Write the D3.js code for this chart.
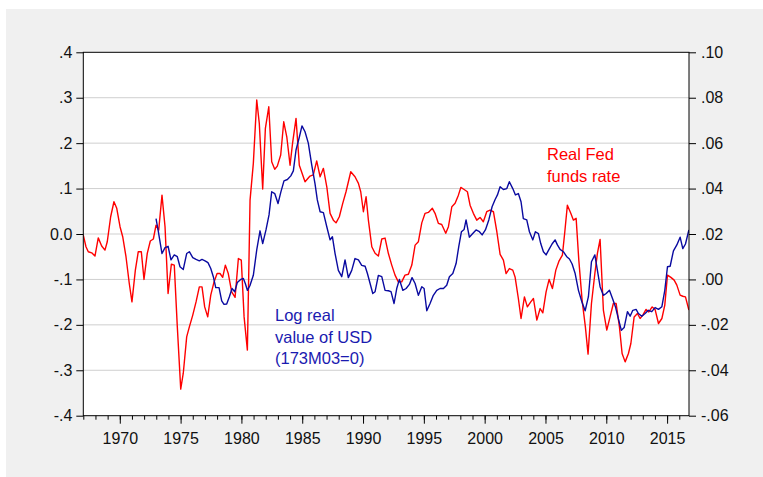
<!DOCTYPE html>
<html>
<head>
<meta charset="utf-8">
<script src="https://cdn.jsdelivr.net/npm/d3@7"></script>
<style>
  html, body { margin: 0; padding: 0; background: #ffffff; }
  svg { display: block; }
  text { font-family: "Liberation Sans", Arial, sans-serif; }
</style>
</head>
<body>
<svg id="chart" width="763" height="477"></svg>
<script>
// ---------------- DATA ----------------
// Real Fed funds rate (right axis), quarterly, decimal years
const fedDates = [1967.00,1967.22,1967.41,1967.69,1967.96,1968.23,1968.51,1968.78,1968.97,1969.25,1969.52,1969.75,
1970.02,1970.24,1970.51,1970.78,1971.00,1971.28,1971.52,1971.77,1971.99,1972.26,1972.51,1972.76,1972.98,1973.20,
1973.47,1973.72,1973.97,1974.24,1974.48,1974.73,1975.01,1975.22,1975.50,1975.72,1976.00,1976.27,1976.54,1976.76,
1976.98,1977.23,1977.48,1977.75,1978.00,1978.24,1978.46,1978.68,1978.92,1979.20,1979.48,1979.75,1979.99,1980.22,
1980.49,1980.71,1980.98,1981.26,1981.47,1981.75,1981.97,1982.25,1982.49,1982.74,1982.95,1983.23,1983.48,1983.73,
1984.00,1984.22,1984.49,1984.76,1985.23,1985.64,1985.91,1986.19,1986.47,1986.74,1987.02,1987.29,1987.56,1987.78,
1988.05,1988.33,1988.60,1988.99,1989.34,1989.62,1989.81,1990.03,1990.25,1990.44,1990.72,1990.99,1991.26,1991.54,
1991.81,1992.08,1992.36,1992.63,1992.90,1993.18,1993.45,1993.73,1994.01,1994.28,1994.55,1994.83,1995.10,1995.37,
1995.70,1995.92,1996.19,1996.47,1996.80,1997.02,1997.30,1997.57,1997.84,1998.04,1998.31,1998.58,1998.80,1999.07,
1999.35,1999.62,1999.89,2000.17,2000.44,2000.72,2001.00,2001.27,2001.54,2001.76,2002.03,2002.31,2002.50,2002.77,
2002.99,2003.27,2003.51,2003.79,2004.01,2004.29,2004.56,2004.78,2005.05,2005.30,2005.57,2005.85,2006.12,2006.39,
2006.59,2006.80,2007.08,2007.30,2007.52,2007.74,2008.01,2008.28,2008.50,2008.78,2009.06,2009.27,2009.49,2009.76,
2010.04,2010.31,2010.58,2010.81,2011.08,2011.30,2011.55,2011.82,2012.02,2012.29,2012.56,2012.78,2013.00,2013.27,
2013.50,2013.77,2014.01,2014.29,2014.57,2014.81,2015.03,2015.31,2015.58,2015.80,2016.07,2016.29,2016.51,2016.79];
const fedRate = [0.0195,0.0144,0.0122,0.0117,0.0103,0.0183,0.0147,0.0129,0.0166,0.0276,0.0342,0.0313,
0.0232,0.0188,0.0100,-0.0018,-0.0099,0.0041,0.0122,0.0122,0.0000,0.0115,0.0169,0.0178,0.0239,0.0217,
0.0371,0.0232,-0.0062,0.0067,0.0063,-0.0209,-0.0483,-0.0413,-0.0253,-0.0209,-0.0157,-0.0099,-0.0033,-0.0033,
-0.0121,-0.0165,-0.0069,-0.0011,0.0026,0.0026,0.0009,0.0063,0.0026,-0.0055,-0.0079,0.0092,0.0085,-0.0165,
-0.0311,0.0349,0.0511,0.0790,0.0687,0.0398,0.0665,0.0760,0.0518,0.0485,0.0499,0.0548,0.0694,0.0628,
0.0503,0.0606,0.0709,0.0503,0.0430,0.0455,0.0460,0.0522,0.0452,0.0489,0.0408,0.0291,0.0261,0.0249,
0.0276,0.0335,0.0386,0.0474,0.0452,0.0423,0.0386,0.0298,0.0364,0.0261,0.0144,0.0115,0.0103,0.0178,
0.0182,0.0115,0.0063,0.0019,-0.0011,-0.0011,0.0019,0.0023,0.0063,0.0151,0.0166,0.0249,0.0291,0.0295,
0.0313,0.0291,0.0247,0.0242,0.0203,0.0232,0.0320,0.0335,0.0371,0.0405,0.0396,0.0386,0.0327,0.0291,
0.0261,0.0273,0.0254,0.0298,0.0305,0.0298,0.0210,0.0110,0.0085,0.0026,0.0048,0.0041,0.0011,-0.0084,
-0.0172,-0.0077,-0.0121,-0.0099,-0.0084,-0.0179,-0.0128,-0.0147,-0.0055,0.0000,-0.0040,0.0041,0.0082,0.0107,
0.0210,0.0327,0.0291,0.0261,0.0269,0.0085,-0.0091,-0.0209,-0.0329,-0.0106,0.0026,0.0115,0.0176,-0.0135,
-0.0223,-0.0165,-0.0106,-0.0106,-0.0209,-0.0326,-0.0363,-0.0326,-0.0282,-0.0165,-0.0150,-0.0172,-0.0157,-0.0132,
-0.0143,-0.0121,-0.0132,-0.0194,-0.0172,-0.0113,0.0019,0.0009,-0.0003,-0.0025,-0.0069,-0.0074,-0.0077,-0.0135];

// Log real value of USD (left axis)
const usdDates = [1972.98,1973.17,1973.47,1973.72,1973.97,1974.21,1974.48,1974.73,1974.95,1975.22,1975.50,1975.72,
1976.00,1976.27,1976.54,1976.76,1977.01,1977.25,1977.48,1977.69,1977.89,1978.16,1978.38,1978.57,1978.79,1979.01,
1979.23,1979.45,1979.66,1979.94,1980.16,1980.32,1980.49,1980.71,1980.98,1981.26,1981.53,1981.75,1982.02,1982.27,
1982.49,1982.74,1983.01,1983.23,1983.50,1983.78,1984.06,1984.27,1984.49,1984.76,1984.98,1985.23,1985.50,1985.78,
1986.05,1986.24,1986.47,1986.74,1987.02,1987.29,1987.48,1987.70,1987.97,1988.25,1988.52,1988.79,1989.07,1989.34,
1989.62,1989.89,1990.17,1990.36,1990.58,1990.80,1990.99,1991.26,1991.54,1991.81,1992.08,1992.30,1992.55,1992.77,
1992.99,1993.27,1993.54,1993.81,1994.03,1994.28,1994.55,1994.83,1995.02,1995.24,1995.51,1995.78,1996.06,1996.33,
1996.61,1996.88,1997.10,1997.38,1997.65,1997.87,1998.09,1998.31,1998.47,1998.74,1999.02,1999.29,1999.57,1999.79,
2000.06,2000.34,2000.61,2000.86,2001.05,2001.27,2001.54,2001.82,2002.03,2002.31,2002.53,2002.77,2002.99,2003.18,
2003.46,2003.68,2003.96,2004.17,2004.42,2004.61,2004.83,2005.05,2005.27,2005.54,2005.79,2005.98,2006.20,2006.47,
2006.75,2006.97,2007.19,2007.44,2007.71,2007.99,2008.26,2008.53,2008.78,2009.06,2009.27,2009.49,2009.76,2009.99,
2010.26,2010.54,2010.75,2010.97,2011.24,2011.47,2011.74,2011.96,2012.18,2012.45,2012.64,2012.92,2013.19,2013.46,
2013.74,2014.01,2014.29,2014.57,2014.81,2015.03,2015.25,2015.52,2015.80,2016.07,2016.29,2016.51,2016.79];
const usdValue = [0.034,0.005,-0.043,-0.030,-0.027,-0.057,-0.046,-0.050,-0.072,-0.078,-0.043,-0.039,
-0.052,-0.056,-0.059,-0.056,-0.059,-0.063,-0.076,-0.094,-0.118,-0.118,-0.147,-0.155,-0.154,-0.138,
-0.120,-0.127,-0.107,-0.100,-0.098,-0.109,-0.124,-0.113,-0.091,-0.035,0.007,-0.021,0.009,0.042,
0.093,0.089,0.067,0.091,0.117,0.120,0.128,0.139,0.185,0.213,0.238,0.225,0.200,0.152,
0.111,0.075,0.049,0.047,0.016,-0.013,-0.006,-0.043,-0.080,-0.094,-0.057,-0.096,-0.080,-0.054,
-0.057,-0.069,-0.071,-0.087,-0.109,-0.131,-0.127,-0.091,-0.094,-0.124,-0.125,-0.127,-0.153,-0.120,
-0.100,-0.124,-0.120,-0.111,-0.096,-0.109,-0.135,-0.116,-0.120,-0.169,-0.153,-0.135,-0.124,-0.120,
-0.120,-0.113,-0.094,-0.087,-0.065,-0.028,0.005,0.010,0.031,-0.007,0.001,0.009,0.005,-0.002,
0.009,0.031,0.060,0.076,0.086,0.104,0.098,0.100,0.115,0.100,0.086,0.089,0.071,0.034,
0.031,0.005,-0.013,0.005,0.001,-0.021,-0.039,-0.046,-0.035,-0.022,-0.013,-0.024,-0.034,-0.039,
-0.050,-0.055,-0.066,-0.087,-0.124,-0.149,-0.169,-0.138,-0.061,-0.046,-0.080,-0.116,-0.135,-0.131,
-0.124,-0.144,-0.160,-0.184,-0.212,-0.206,-0.171,-0.181,-0.168,-0.166,-0.175,-0.181,-0.175,-0.168,
-0.171,-0.162,-0.166,-0.160,-0.124,-0.072,-0.071,-0.037,-0.024,-0.007,-0.032,-0.022,0.009];

const leftTicks = [-0.4,-0.3,-0.2,-0.1,0,0.1,0.2,0.3,0.4];
const leftTickLabels = ["-.4","-.3","-.2","-.1","0.0",".1",".2",".3",".4"];
const rightTicks = [-0.06,-0.04,-0.02,0,0.02,0.04,0.06,0.08,0.10];
const rightTickLabels = ["-.06","-.04","-.02",".00",".02",".04",".06",".08",".10"];
const yearTicks = [1970,1975,1980,1985,1990,1995,2000,2005,2010,2015];

const labelUSD = ["Log real","value of USD","(173M03=0)"];
const labelFed = ["Real Fed","funds rate"];

// ---------------- LAYOUT ----------------
const svg = d3.select("#chart");
const W = 763, H = 477;
const plot = {left: 83.3, right: 689, top: 52.3, bottom: 415.7};
const blue = "#0a0aa0", red = "#ff0000";

svg.append("rect").attr("x", 6).attr("y", 9).attr("width", W - 6).attr("height", H - 9).attr("fill", "#f0f0f0");
svg.append("rect").attr("x", plot.left).attr("y", plot.top)
  .attr("width", plot.right - plot.left).attr("height", plot.bottom - plot.top).attr("fill", "#ffffff");

const x = d3.scaleLinear().domain([1967, 2016.8]).range([plot.left, plot.right]);
const yL = d3.scaleLinear().domain([-0.4, 0.4]).range([plot.bottom, plot.top]);
const yR = d3.scaleLinear().domain([-0.06, 0.10]).range([plot.bottom, plot.top]);

// gridlines
svg.append("g").selectAll("line").data(leftTicks.slice(1, -1)).join("line")
  .attr("x1", plot.left).attr("x2", plot.right)
  .attr("y1", d => yL(d)).attr("y2", d => yL(d))
  .attr("stroke", "#cfcfcf").attr("stroke-width", 1);

// lines
const fedData = fedDates.map((t, i) => [t, fedRate[i]]);
const usdData = usdDates.map((t, i) => [t, usdValue[i]]);

svg.append("clipPath").attr("id", "clip").append("rect")
  .attr("x", plot.left).attr("y", plot.top).attr("width", plot.right - plot.left).attr("height", plot.bottom - plot.top);

svg.append("path").datum(fedData)
  .attr("clip-path", "url(#clip)")
  .attr("fill", "none").attr("stroke", red).attr("stroke-width", 1.4).attr("stroke-linejoin", "round")
  .attr("d", d3.line().x(d => x(d[0])).y(d => yR(d[1])));
svg.append("path").datum(usdData)
  .attr("clip-path", "url(#clip)")
  .attr("fill", "none").attr("stroke", blue).attr("stroke-width", 1.4).attr("stroke-linejoin", "round")
  .attr("d", d3.line().x(d => x(d[0])).y(d => yL(d[1])));

// frame
svg.append("rect").attr("x", plot.left).attr("y", plot.top)
  .attr("width", plot.right - plot.left).attr("height", plot.bottom - plot.top)
  .attr("fill", "none").attr("stroke", "#000").attr("stroke-width", 1);

// axes
const fontSize = "16px";
const axL = svg.append("g").attr("transform", `translate(${plot.left},0)`)
  .call(d3.axisLeft(yL).tickValues(leftTicks).tickFormat((d, i) => leftTickLabels[i]).tickSize(7).tickPadding(4));
const axR = svg.append("g").attr("transform", `translate(${plot.right},0)`)
  .call(d3.axisRight(yR).tickValues(rightTicks).tickFormat((d, i) => rightTickLabels[i]).tickSize(7).tickPadding(5));
const minorYears = d3.range(1967, 2017);
const axBminor = svg.append("g").attr("transform", `translate(0,${plot.bottom})`)
  .call(d3.axisBottom(x).tickValues(minorYears).tickFormat("").tickSize(4));
const axB = svg.append("g").attr("transform", `translate(0,${plot.bottom})`)
  .call(d3.axisBottom(x).tickValues(yearTicks).tickFormat(d3.format("d")).tickSize(8).tickPadding(9));

[axL, axR, axB, axBminor].forEach(a => {
  a.select(".domain").remove();
  a.selectAll("line").attr("stroke", "#000");
  a.selectAll("text").attr("fill", "#111").style("font-size", fontSize)
    .style("font-family", "'Liberation Sans', Arial, sans-serif");
});

// annotations
svg.append("text").attr("x", 275).attr("y", 321).attr("fill", "#1a1ab0").style("font-size", "16.5px")
  .selectAll("tspan").data(labelUSD).join("tspan")
  .attr("x", 275).attr("dy", (d, i) => i === 0 ? 0 : 21.5).text(d => d);
svg.append("text").attr("x", 547).attr("y", 160).attr("fill", red).style("font-size", "16.5px")
  .selectAll("tspan").data(labelFed).join("tspan")
  .attr("x", 547).attr("dy", (d, i) => i === 0 ? 0 : 21.5).text(d => d);
</script>
</body>
</html>
